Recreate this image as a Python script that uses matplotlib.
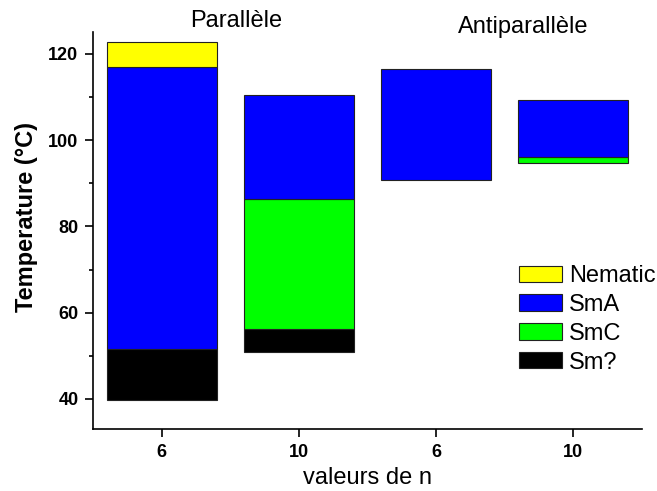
import numpy as np
import matplotlib
matplotlib.use("Agg")
import matplotlib.pyplot as plt

plt.rcParams['font.family'] = ['Liberation Sans', 'DejaVu Sans']

# phase ranges (°C) for each sample: parallel n=6, n=10, antiparallel n=6, n=10
n_labels = ['6', '10', '6', '10']
nan = np.nan
sm_low = [39.8, 50.9, nan, nan]
sm_high = [51.6, 56.3, nan, nan]
smc_low = [nan, 56.3, nan, 94.7]
smc_high = [nan, 86.4, nan, 96.0]
sma_low = [51.6, 86.4, 90.8, 96.0]
sma_high = [117.0, 110.6, 116.6, 109.4]
nem_low = [117.0, nan, nan, nan]
nem_high = [122.7, nan, nan, nan]

phases = [
    ('Sm?', sm_low, sm_high, '#000000'),
    ('SmC', smc_low, smc_high, '#00ff00'),
    ('SmA', sma_low, sma_high, '#0000ff'),
    ('Nematic', nem_low, nem_high, '#ffff00'),
]

fig = plt.figure(figsize=(6.57, 4.91), dpi=100)
ax = fig.add_axes([0.1416, 0.1263, 0.8354, 0.8085])

x = np.arange(1, len(n_labels) + 1)
handles = {}
for name, low, high, col in phases:
    low = np.array(low)
    high = np.array(high)
    ok = ~np.isnan(low)
    h = ax.bar(x[ok], high[ok] - low[ok], bottom=low[ok], width=0.8,
               color=col, edgecolor='#222222', linewidth=0.8, label=name)
    handles[name] = h

ax.set_xlim(0.5, 4.5)
ax.set_ylim(33, 125.1)
ax.set_xticks(x)
ax.set_xticklabels(n_labels)
ax.set_yticks([40, 60, 80, 100, 120])
ax.set_yticks([50, 70, 90, 110], minor=True)

for s in ['top', 'right']:
    ax.spines[s].set_visible(False)
for s in ['left', 'bottom']:
    ax.spines[s].set_linewidth(1.2)

ax.tick_params(which='major', direction='out', length=5.5, width=1.2,
               labelsize=13, pad=5)
ax.tick_params(which='minor', direction='out', length=3, width=1.2)
for lab in ax.get_xticklabels() + ax.get_yticklabels():
    lab.set_fontweight('bold')

ax.set_ylabel('Temperature (°C)', fontsize=17, fontweight='bold')
ax.yaxis.set_label_coords(-0.10, 0.533)
ax.set_xlabel('valeurs de n', fontsize=17)
ax.xaxis.set_label_coords(0.5, -0.095)

fig.text(0.359, 0.945, 'Parallèle', fontsize=17, ha='center', va='baseline')
fig.text(0.796, 0.933, 'Antiparallèle', fontsize=17, ha='center', va='baseline')

order = ['Nematic', 'SmA', 'SmC', 'Sm?']
ax.legend([handles[k] for k in order], order, loc='upper left',
          bbox_to_anchor=(519 / 657, 1 - 265 / 491), bbox_transform=fig.transFigure,
          frameon=False, fontsize=17, handlelength=1.82, handleheight=0.68,
          handletextpad=0.3, labelspacing=0.29, borderpad=0, borderaxespad=0)

fig.savefig('out.png', dpi=100)
